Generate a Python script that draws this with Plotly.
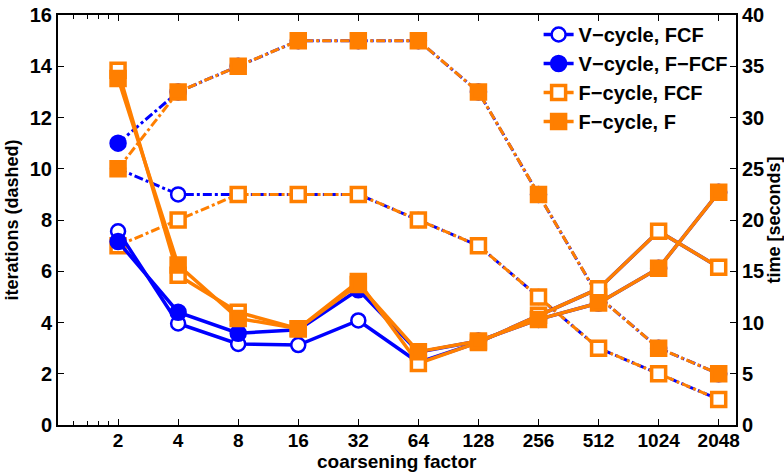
import plotly.graph_objects as go

factors = [2, 4, 8, 16, 32, 64, 128, 256, 512, 1024, 2048]
tick_labels = ["2", "4", "8", "16", "32", "64", "128", "256", "512", "1024", "2048"]

iter_v_fcf = [10, 9, 9, 9, 9, 8, 7, 5, 3, 2, 1]
iter_v_ffcf = [11, 13, 14, 15, 15, 15, 13, 9, 5, 3, 2]
iter_f_fcf = [7, 8, 9, 9, 9, 8, 7, 5, 3, 2, 1]
iter_f_f = [10, 13, 14, 15, 15, 15, 13, 9, 5, 3, 2]

time_v_fcf = [18.9, 9.9, 7.9, 7.8, 10.2, 6.1, 8.05, 10.7, 13.3, 18.9, 15.4]
time_v_ffcf = [17.9, 11.0, 8.95, 9.3, 13.2, 7.1, 8.2, 10.3, 11.9, 15.3, 22.7]
time_f_fcf = [34.6, 14.6, 11.0, 9.4, 14.0, 6.0, 8.05, 10.7, 13.3, 18.9, 15.4]
time_f_f = [33.8, 15.6, 10.4, 9.4, 13.7, 7.15, 8.2, 10.3, 11.9, 15.3, 22.7]

names = ["V\u2212cycle, FCF", "V\u2212cycle, F\u2212FCF", "F\u2212cycle, FCF", "F\u2212cycle, F"]

BLUE = "#0000ff"
ORANGE = "#ff7f00"

styles = [
    dict(color=BLUE, symbol="circle", fill="white", size=14),
    dict(color=BLUE, symbol="circle", fill=BLUE, size=15),
    dict(color=ORANGE, symbol="square", fill="white", size=14),
    dict(color=ORANGE, symbol="square", fill=ORANGE, size=14),
]

iters = [iter_v_fcf, iter_v_ffcf, iter_f_fcf, iter_f_f]
times = [time_v_fcf, time_v_ffcf, time_f_fcf, time_f_f]

fig = go.Figure()


def add_pair(i):
    s = styles[i]
    marker = dict(symbol=s["symbol"], size=s["size"], color=s["fill"],
                  line=dict(color=s["color"], width=3.5 if s["symbol"] == "square" else 2.5))
    fig.add_trace(go.Scatter(
        x=factors, y=iters[i], mode="lines+markers", name=names[i],
        legendgroup=names[i], showlegend=False,
        line=dict(color=s["color"], width=3, dash="dashdot"),
        marker=marker, yaxis="y"))
    return marker


def add_time(i, marker):
    s = styles[i]
    fig.add_trace(go.Scatter(
        x=factors, y=times[i], mode="lines+markers", name=names[i],
        legendgroup=names[i], showlegend=True,
        line=dict(color=s["color"], width=3.5),
        marker=marker, yaxis="y2"))


m0 = add_pair(0)
m1 = add_pair(1)
add_time(0, m0)
add_time(1, m1)
m2 = add_pair(2)
m3 = add_pair(3)
add_time(2, m2)
add_time(3, m3)

title_font = dict(family="Liberation Sans", size=18, color="black", weight=700)
tick_font = dict(family="Liberation Sans", size=20, color="black", weight=700)

fig.update_layout(
    width=784, height=472,
    margin=dict(l=58, r=48, t=15, b=47),
    plot_bgcolor="white", paper_bgcolor="white",
    font=title_font,
    xaxis=dict(
        type="log", range=[0, 3.398], automargin=False,
        tickmode="array", tickvals=factors, ticktext=tick_labels,
        ticks="inside", ticklen=6, tickwidth=1.2, tickcolor="black",
        showline=True, linecolor="black", linewidth=2, mirror="ticks",
        showgrid=False, zeroline=False,
        minor=dict(tickmode="array", tickvals=[1.2, 1.4, 1.6, 1.8],
                   ticks="inside", ticklen=4, tickcolor="black", showgrid=False),
        tickfont=dict(family="Liberation Sans", size=19, color="black", weight=700),
        ticklabelstandoff=-3,
    ),
    yaxis=dict(
        range=[0, 16], tickvals=list(range(0, 17, 2)), automargin=False,
        ticks="inside", ticklen=6, tickwidth=1.2, tickcolor="black",
        showline=True, linecolor="black", linewidth=2,
        showgrid=False, zeroline=False,
        title=dict(text="iterations (dashed)", font=title_font, standoff=6),
        tickfont=tick_font,
    ),
    yaxis2=dict(
        range=[0, 40], tickvals=list(range(0, 41, 5)), automargin=False,
        overlaying="y", side="right",
        ticks="inside", ticklen=6, tickwidth=1.2, tickcolor="black",
        showline=True, linecolor="black", linewidth=2,
        showgrid=False, zeroline=False,
        title=dict(text="time [seconds]", font=title_font, standoff=6),
        tickfont=tick_font,
    ),
    legend=dict(
        x=0.995, y=1.0, xanchor="right", yanchor="top",
        bgcolor="rgba(255,255,255,0)", borderwidth=0,
        font=dict(family="Liberation Sans", size=20, color="black", weight=700),
        itemwidth=30, tracegroupgap=0,
    ),
    annotations=[dict(
        text="coarsening factor", xref="paper", yref="paper",
        x=0.5, y=-47 / 410, xanchor="center", yanchor="bottom",
        showarrow=False, font=dict(family="Liberation Sans", size=19, color="black", weight=700),
        borderpad=0, yshift=-1,
    )],
)

fig.write_html("out.html")
